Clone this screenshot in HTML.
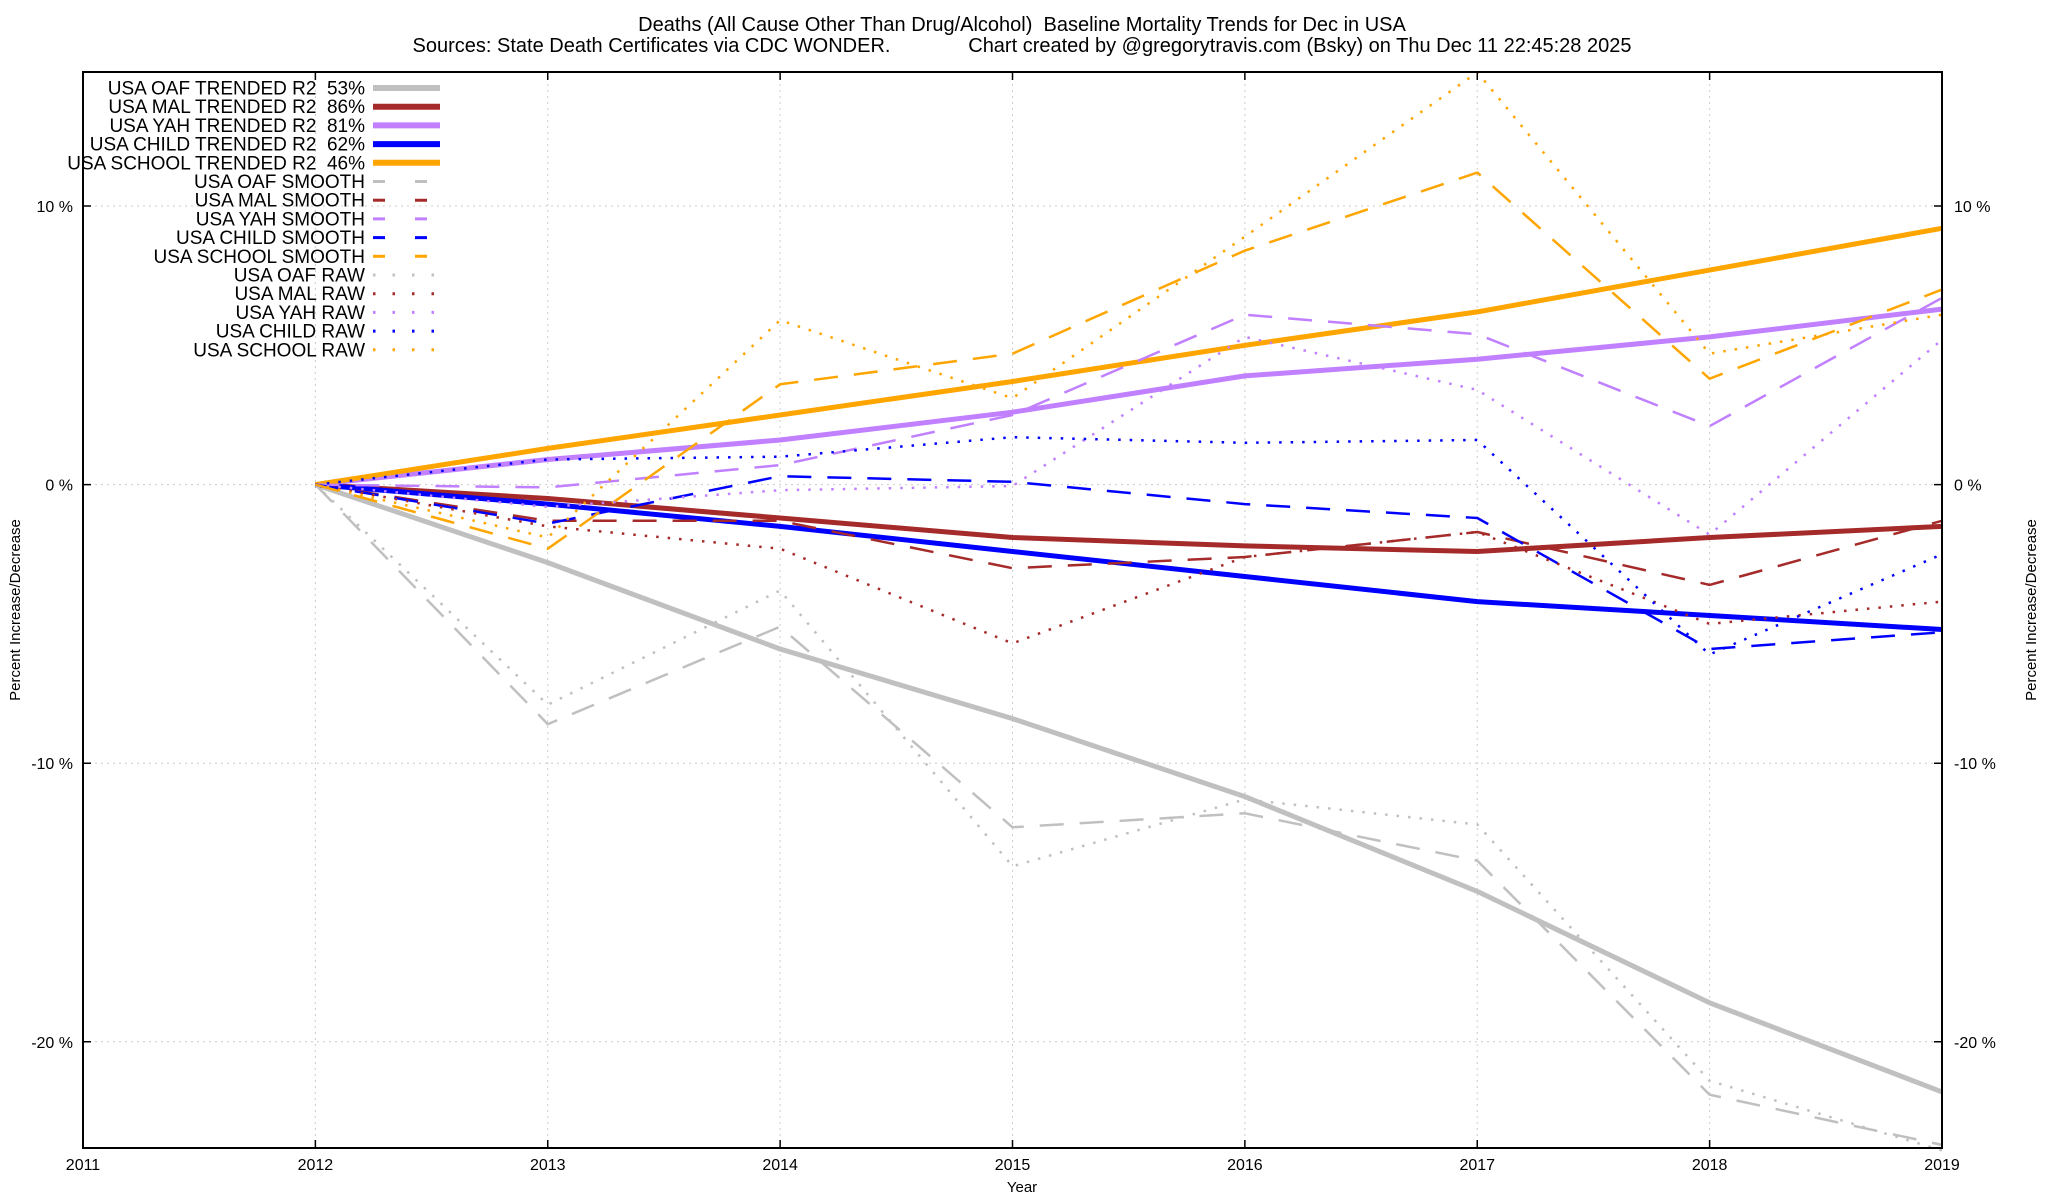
<!DOCTYPE html>
<html><head><meta charset="utf-8"><style>
html,body{margin:0;padding:0;background:#fff;}
svg{display:block;font-family:"Liberation Sans",Arial,sans-serif;}
</style></head><body>
<svg id="chart" width="2048" height="1200" viewBox="0 0 2048 1200" xmlns="http://www.w3.org/2000/svg">
<text x="1022" y="31" font-size="20" text-anchor="middle" xml:space="preserve">Deaths (All Cause Other Than Drug/Alcohol)  Baseline Mortality Trends for Dec in USA</text>
<text x="1022" y="52" font-size="20" text-anchor="middle" xml:space="preserve">Sources: State Death Certificates via CDC WONDER.              Chart created by @gregorytravis.com (Bsky) on Thu Dec 11 22:45:28 2025</text>
<text x="1022" y="1192" font-size="15" text-anchor="middle">Year</text>
<text transform="translate(20,610) rotate(-90)" font-size="15" text-anchor="middle">Percent Increase/Decrease</text>
<text transform="translate(2036,610) rotate(-90)" font-size="15" text-anchor="middle">Percent Increase/Decrease</text>
<g id="grid"></g><g id="series"></g><g id="axes"></g><g id="legend"></g>
</svg>
<script>
const years = [2012,2013,2014,2015,2016,2017,2018,2019];
const xTicks = [2011,2012,2013,2014,2015,2016,2017,2018,2019];
const yTicks = [10,0,-10,-20];
const yTickLabels = ["10 %","0 %","-10 %","-20 %"];
const oafTrend = [0,-2.8,-5.9,-8.4,-11.2,-14.6,-18.6,-21.8];
const malTrend = [0,-0.5,-1.2,-1.9,-2.2,-2.4,-1.9,-1.5];
const yahTrend = [0,0.9,1.6,2.6,3.9,4.5,5.3,6.3];
const childTrend = [0,-0.7,-1.5,-2.4,-3.3,-4.2,-4.7,-5.2];
const schoolTrend = [0,1.3,2.5,3.7,5.0,6.2,7.7,9.2];
const oafSmooth = [0,-8.6,-5.1,-12.3,-11.8,-13.5,-21.9,-23.7];
const malSmooth = [0,-1.3,-1.3,-3.0,-2.6,-1.7,-3.6,-1.3];
const yahSmooth = [0,-0.1,0.7,2.5,6.1,5.4,2.1,6.7];
const childSmooth = [0,-1.4,0.3,0.1,-0.7,-1.2,-5.9,-5.3];
const schoolSmooth = [0,-2.3,3.6,4.7,8.4,11.2,3.8,7.0];
const oafRaw = [0,-7.9,-3.8,-13.7,-11.3,-12.2,-21.4,-23.9];
const malRaw = [0,-1.5,-2.3,-5.7,-2.6,-1.7,-5.0,-4.2];
const yahRaw = [0,-0.8,-0.2,-0.05,5.3,3.4,-1.8,5.2];
const childRaw = [0,0.9,1.0,1.7,1.5,1.6,-6.1,-2.5];
const schoolRaw = [0,-1.9,5.9,3.1,8.9,14.8,4.7,6.1];

const NS="http://www.w3.org/2000/svg";
const L=83,R=1942,T=72,B=1148;
const xs=y=>L+(y-2011)*(R-L)/8;
const ys=v=>484.6-v*27.86;
function mk(tag,attrs,parent){const e=document.createElementNS(NS,tag);for(const k in attrs)e.setAttribute(k,attrs[k]);parent.appendChild(e);return e;}
const grid=document.getElementById('grid'),axes=document.getElementById('axes'),ser=document.getElementById('series'),leg=document.getElementById('legend');
xTicks.forEach((t,i)=>{
  const x=xs(t);
  if(i>0&&i<xTicks.length-1){const g=mk('line',{x1:x,x2:x,y1:T,y2:B,stroke:'#ccc','stroke-width':1,'stroke-dasharray':'2 4'},grid);
  
  }
  const tk=mk('path',{d:`M${x},${B}v-8M${x},${T}v8`,stroke:'#000','stroke-width':1.5},axes);
  
  
  const lb=mk('text',{x:x,y:1170,'font-size':16,'text-anchor':'middle'},axes);lb.textContent=t;
  
  
});
yTicks.forEach((v,i)=>{
  const y=ys(v);
  const g=mk('line',{x1:L,x2:R,y1:y,y2:y,stroke:'#ccc','stroke-width':1,'stroke-dasharray':'2 4'},grid);
  
  
  const tk=mk('path',{d:`M${L},${y}h8M${R},${y}h-8`,stroke:'#000','stroke-width':1.5},axes);
  
  
  const a=mk('text',{x:L-10,y:y+6,'font-size':16,'text-anchor':'end'},axes);a.textContent=yTickLabels[i];
  
  
  const b=mk('text',{x:R+12,y:y+6,'font-size':16},axes);b.textContent=yTickLabels[i];
  
  
});
const frame=mk('rect',{x:L,y:T,width:R-L,height:B-T,fill:'none',stroke:'#000','stroke-width':2},axes);



const C={oaf:'#c0c0c0',mal:'#a52a2a',yah:'#c080ff',child:'#0000ff',school:'#ffa500'};
const styles={trend:{w:5,d:''},smooth:{w:2.5,d:'24 16'},raw:{w:2.5,d:'2.5 9'}};
const series=[
 ['USA OAF TRENDED R2  53%',oafTrend,C.oaf,'trend','oaf-trend'],
 ['USA MAL TRENDED R2  86%',malTrend,C.mal,'trend','mal-trend'],
 ['USA YAH TRENDED R2  81%',yahTrend,C.yah,'trend','yah-trend'],
 ['USA CHILD TRENDED R2  62%',childTrend,C.child,'trend','child-trend'],
 ['USA SCHOOL TRENDED R2  46%',schoolTrend,C.school,'trend','school-trend'],
 ['USA OAF SMOOTH',oafSmooth,C.oaf,'smooth','oaf-smooth'],
 ['USA MAL SMOOTH',malSmooth,C.mal,'smooth','mal-smooth'],
 ['USA YAH SMOOTH',yahSmooth,C.yah,'smooth','yah-smooth'],
 ['USA CHILD SMOOTH',childSmooth,C.child,'smooth','child-smooth'],
 ['USA SCHOOL SMOOTH',schoolSmooth,C.school,'smooth','school-smooth'],
 ['USA OAF RAW',oafRaw,C.oaf,'raw','oaf-raw'],
 ['USA MAL RAW',malRaw,C.mal,'raw','mal-raw'],
 ['USA YAH RAW',yahRaw,C.yah,'raw','yah-raw'],
 ['USA CHILD RAW',childRaw,C.child,'raw','child-raw'],
 ['USA SCHOOL RAW',schoolRaw,C.school,'raw','school-raw']
];
series.forEach((s,i)=>{
  const st=styles[s[3]];
  const pts=years.map((y,j)=>xs(y).toFixed(1)+','+ys(s[1][j]).toFixed(1)).join(' ');
  const pl=mk('polyline',{points:pts,fill:'none',stroke:s[2],'stroke-width':st.w,'stroke-dasharray':st.d,'stroke-linejoin':'round'},ser);
  
  
  const ly=88+i*18.7;
  const t=mk('text',{x:365,y:ly+6.5,'font-size':19,'text-anchor':'end'},leg);
  t.setAttributeNS('http://www.w3.org/XML/1998/namespace','xml:space','preserve');
  t.textContent=s[0];
  
  
  const ln=mk('line',{x1:373,x2:440,y1:ly,y2:ly,stroke:s[2],'stroke-width':s[3]==='trend'?6:3,'stroke-dasharray':s[3]==='smooth'?'12 30':(s[3]==='raw'?'2.5 17':'')},leg);
  
  
});
</script>
</body></html>
